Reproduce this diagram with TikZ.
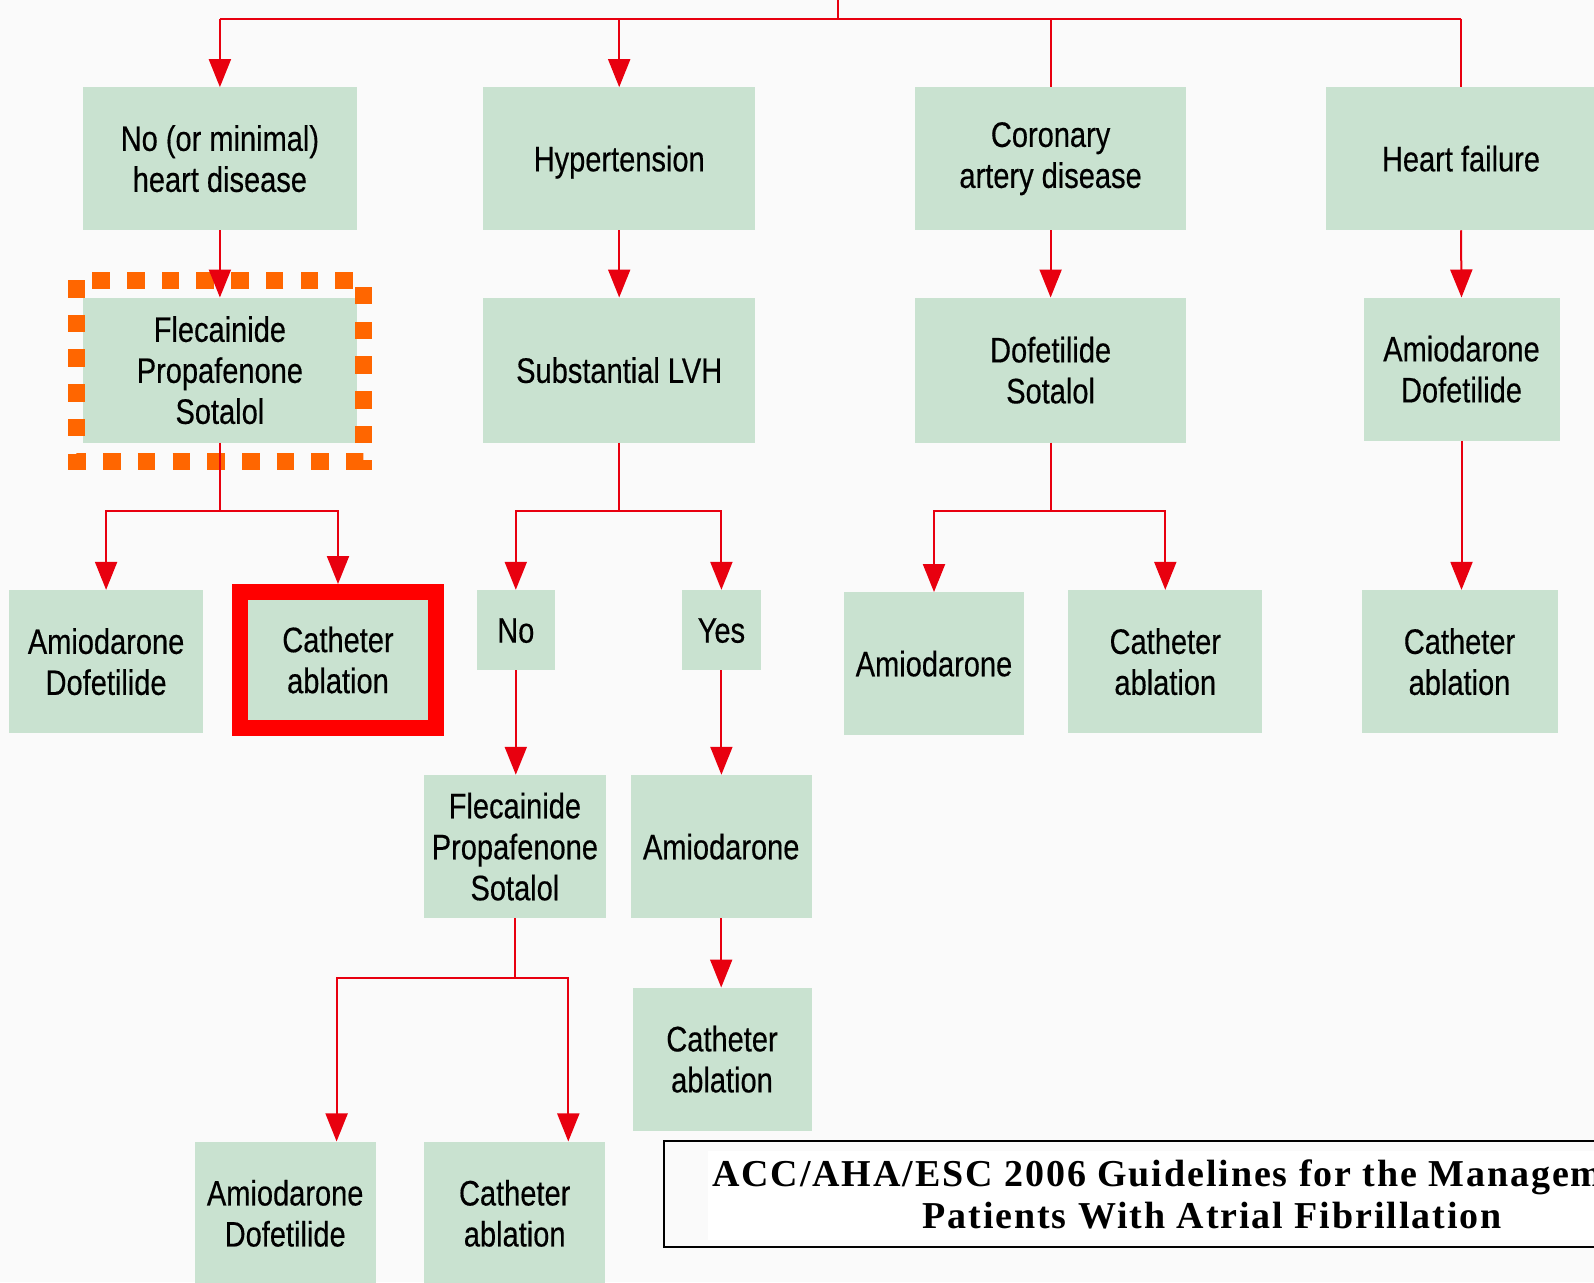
\documentclass[tikz,border=0pt]{standalone}
\usepackage{fontspec}
\usetikzlibrary{arrows.meta}
\newfontfamily\condfont{Liberation Sans}[FakeStretch=0.82,FakeBold=0.4]
\newfontfamily\capfont{Liberation Serif}[LetterSpace=5]
\definecolor{boxgreen}{HTML}{C9E2D0}
\definecolor{linered}{HTML}{E8000F}
\definecolor{dotorange}{HTML}{FF6600}
\definecolor{hlred}{HTML}{FF0000}
\definecolor{bgcol}{HTML}{FAFAFA}
\begin{document}
\begin{tikzpicture}[x=1pt,y=-1pt,
  box/.style={rectangle, fill=boxgreen, inner sep=0pt, align=center,
    font=\condfont\fontsize{35.4}{41}\selectfont, text=black},
  single/.style={text height=25.3pt, text depth=0pt},
  conn/.style={draw=linered, line width=2pt},
  arr/.style={conn, -{Triangle[width=22pt,length=28pt]}},
  captext/.style={inner sep=0pt, font=\capfont\bfseries\fontsize{38}{42}\selectfont}]
\useasboundingbox (0,0) rectangle (1594,1282);
\clip (0,0) rectangle (1594,1282);
\fill[bgcol] (0,0) rectangle (1594,1282);

% row 1
\node[box, minimum width=273.4pt, minimum height=142.7pt] (n1) at (219.9,158.7) {No (or minimal)\\heart disease};
\node[box, single, minimum width=271.9pt, minimum height=142.7pt] (n2) at (619.2,158.7) {Hypertension};
\node[box, minimum width=271.4pt, minimum height=142.7pt] (n3) at (1050.6,158.7) {Coronary\\artery disease};
\node[box, single, minimum width=271pt, minimum height=142.7pt] (n4) at (1461,158.7) {Heart failure};

% row 2
\node[box, minimum width=273.4pt, minimum height=145pt] (f1) at (219.9,370.2) {Flecainide\\Propafenone\\Sotalol};
\node[box, single, minimum width=271.9pt, minimum height=145pt] (lvh) at (619.2,370.2) {Substantial LVH};
\node[box, minimum width=271.4pt, minimum height=145pt] (ds) at (1050.6,370.2) {Dofetilide\\Sotalol};
\node[box, minimum width=196pt, minimum height=143pt] (ad4) at (1461.5,369.2) {Amiodarone\\Dofetilide};

% row 3
\node[box, minimum width=193.8pt, minimum height=143.3pt] (a1) at (106.1,661.7) {Amiodarone\\Dofetilide};
\node[box, draw=hlred, line width=16pt, minimum width=196pt, minimum height=136pt] (c1) at (338,660) {Catheter\\ablation};
\node[box, single, minimum width=77.6pt, minimum height=80pt] (no) at (515.8,630) {No};
\node[box, single, minimum width=79.6pt, minimum height=80pt] (yes) at (721.4,630) {Yes};
\node[box, single, minimum width=180.6pt, minimum height=142.7pt] (a3) at (934,663.6) {Amiodarone};
\node[box, minimum width=194pt, minimum height=143.3pt] (c3) at (1165.3,661.7) {Catheter\\ablation};
\node[box, minimum width=196pt, minimum height=143.3pt] (c4) at (1459.5,661.7) {Catheter\\ablation};

% row 4
\node[box, minimum width=181.2pt, minimum height=143.3pt] (f2) at (514.9,846.6) {Flecainide\\Propafenone\\Sotalol};
\node[box, single, minimum width=180.7pt, minimum height=143.3pt] (am2) at (721.2,846.6) {Amiodarone};

% row 5
\node[box, minimum width=179pt, minimum height=143pt] (c2) at (722,1059.2) {Catheter\\ablation};

% row 6
\node[box, minimum width=181.3pt, minimum height=143.3pt] (a6) at (285.2,1213.3) {Amiodarone\\Dofetilide};
\node[box, minimum width=181.4pt, minimum height=143.3pt] (c6) at (514.7,1213.3) {Catheter\\ablation};

% dotted highlight
\draw[dotorange, line width=17pt, dash pattern=on 17.5pt off 17.2pt] (76,280) rectangle (363,461);

% connectors
\coordinate (topend) at (838,0);
\coordinate (bus) at (838,18.5);
\draw[conn] (topend) -- (bus);
\draw[conn] (bus -| n1.north) -- (bus -| n4.north);
\draw[arr] (bus -| n1.north) -- (n1.north);
\draw[arr] (bus -| n2.north) -- (n2.north);
\draw[conn] (bus -| n3.north) -- (n3.north);
\draw[conn] (bus -| n4.north) -- (n4.north);

\draw[arr] (n1.south) -- (f1.north);
\draw[arr] (n2.south) -- (lvh.north);
\draw[arr] (n3.south) -- (ds.north);
\draw[arr] (n4.south) -- (ad4.north);

\draw[arr] (f1.south) -- ++(0,68.3) -| (a1.north);
\draw[arr] (f1.south) -- ++(0,68.3) -| (c1.north);
\draw[arr] (lvh.south) -- ++(0,68.3) -| (no.north);
\draw[arr] (lvh.south) -- ++(0,68.3) -| (yes.north);
\draw[arr] (ds.south) -- ++(0,68.3) -| (a3.north);
\draw[arr] (ds.south) -- ++(0,68.3) -| (c3.north);
\draw[arr] (ad4.south) -- (ad4.south |- c4.north);

\draw[arr] (no.south) -- (no.south |- f2.north);
\draw[arr] (yes.south) -- (yes.south |- am2.north);
\draw[arr] (am2.south) -- (am2.south |- c2.north);
\draw[arr] (f2.south) -- ++(0,60) -| ([xshift=51.4pt]a6.north);
\draw[arr] (f2.south) -- ++(0,60) -| ([xshift=53.6pt]c6.north);

% caption
\draw[black, line width=2pt, fill=bgcol] (664.3,1140.7) rectangle (1610,1246.7);
\fill[white] (708,1151) rectangle (1610,1240);
\node[captext, anchor=base west] (cap1) at (712,1186) {ACC/AHA/ESC 2006 Guidelines for the Management};
\node[captext, anchor=base] (cap2) at (1212,1228) {Patients With Atrial Fibrillation};
\end{tikzpicture}
\end{document}
